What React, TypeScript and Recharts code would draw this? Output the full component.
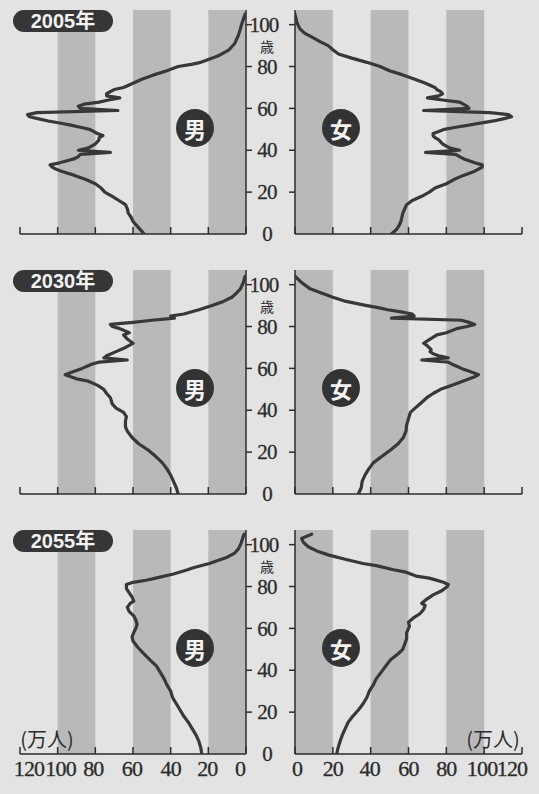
import React from 'react';
import { ScatterChart, Scatter, XAxis, YAxis, ReferenceArea } from 'recharts';

type Pt = [number, number]; // [age, 万人]

const valueTicks = [0, 20, 40, 60, 80, 100, 120];
const ageTicks = [0, 20, 40, 60, 80, 100];
const shadedBands: [number, number][] = [[0, 20], [40, 60], [80, 100]];
const yearLabels = ['2005年', '2030年', '2055年'];

const male2005: Pt[] = [
  [0, 54], [2, 56], [4, 58], [6, 60], [8, 61], [10, 62.5], [12, 63], [14, 64], [16, 67.5], [18, 71],
  [20, 75], [22, 77], [24, 80], [26, 85], [28, 91], [30, 98], [31, 101], [32, 103], [33, 104], [34, 99],
  [35, 95], [36, 91], [37, 89], [38, 88], [39, 72], [40, 89], [41, 84], [42, 82], [43, 80], [44, 79],
  [45, 78], [46, 78], [47, 76], [48, 79], [49, 81], [50, 83], [51, 88], [52, 93], [53, 99], [54, 105],
  [55, 110], [56, 115], [57, 116], [58, 111], [59, 68], [60, 88], [61, 89], [62, 86], [63, 78], [64, 73],
  [65, 67], [66, 74], [67, 74], [68, 72], [69, 70], [70, 65], [72, 60], [74, 55], [76, 49], [78, 42],
  [80, 36], [81, 29], [82, 24], [83, 21], [85, 15], [88, 9], [91, 6], [95, 4], [98, 3], [101, 2], [105, 0.5],
];
const female2005: Pt[] = [
  [0, 51], [2, 53.5], [4, 55], [6, 56], [8, 56.5], [10, 57], [12, 58], [14, 59], [16, 62], [18, 67],
  [20, 71], [22, 74], [24, 80], [26, 84], [28, 89], [30, 95], [31, 97], [32, 99], [33, 99], [34, 95],
  [35, 92], [36, 89], [37, 87], [38, 85], [39, 69], [40, 87], [41, 82], [42, 80], [43, 78], [44, 77],
  [45, 76], [46, 74], [47, 73], [48, 73], [49, 76], [50, 79], [51, 85], [52, 92], [53, 98], [54, 105],
  [55, 110], [56, 114.5], [57, 113], [58, 103], [59, 68], [60, 92], [61, 91], [62, 89], [63, 87], [64, 78],
  [65, 70], [66, 76], [67, 78], [68, 77], [69, 75], [70, 74], [72, 69], [74, 63], [76, 57], [78, 50],
  [80, 45], [82, 38], [84, 30], [86, 23], [88, 20], [90, 17.5], [92, 13], [94, 9], [96, 5], [98, 2.6],
  [101, 1], [105, 0],
];
const male2030: Pt[] = [
  [0, 36], [3, 37], [6, 38.5], [9, 40], [12, 42], [15, 44.5], [18, 48], [21, 52], [24, 57], [27, 60.5],
  [30, 63], [32, 64], [35, 64], [37, 63.5], [39, 65], [41, 69], [43, 71], [46, 72], [48, 74], [50, 75.5],
  [52, 79], [54, 84], [55, 90], [57, 96], [58, 93], [60, 87], [62, 82], [63, 78], [64, 63], [65, 75.5],
  [66, 74], [68, 69], [70, 64], [71, 62], [72, 60], [74, 63], [76, 65], [77, 62], [79, 67], [80, 71],
  [81, 72], [82, 60], [83, 50], [84, 38], [85, 40], [86, 33], [88, 25], [90, 18], [92, 12], [94, 7.5],
  [96, 5], [98, 3], [101, 1.4], [104, 0.5],
];
const female2030: Pt[] = [
  [0, 33.5], [3, 35], [6, 35.5], [9, 37], [12, 39], [15, 41.5], [18, 46], [21, 50.5], [24, 54.5], [27, 57.3],
  [30, 58.7], [33, 59], [36, 60], [39, 61], [41, 63.5], [43, 66], [46, 69.7], [48, 73], [50, 77], [52, 83],
  [54, 89], [56, 95], [57, 97], [58, 94], [60, 88], [61, 85.5], [62, 83], [63, 81], [64, 67], [65, 81],
  [66, 76], [67, 73], [68, 71.4], [69, 72], [71, 69.7], [72, 68], [74, 71.4], [76, 75], [77, 80], [79, 85.5],
  [80, 91], [81, 95], [82, 92], [83, 88], [84, 51], [85, 63], [86, 62], [87, 56], [88, 49], [89, 44],
  [90, 38], [92, 27], [94, 20], [96, 14], [98, 8], [101, 3.5], [104, 0],
];
const male2055: Pt[] = [
  [0, 23.5], [3, 24], [6, 25], [9, 26.5], [12, 28.5], [15, 30.5], [18, 33], [21, 35], [24, 37], [27, 39],
  [30, 40], [33, 42], [36, 43.5], [39, 45.5], [42, 47.5], [45, 51], [48, 54.3], [51, 57.5], [54, 60], [56, 60.5],
  [58, 59.6], [60, 58.5], [62, 57.8], [64, 58.5], [66, 59.6], [68, 62], [70, 63], [72, 61.5], [73, 59.6], [75, 60.5],
  [77, 62], [79, 63.5], [81, 63.5], [82, 60], [83, 53], [84, 48], [86, 38.5], [88, 31], [89, 28], [91, 19.5],
  [94, 10], [96, 6], [98, 4], [101, 2.5], [104, 1.4], [105, 1],
];
const female2055: Pt[] = [
  [0, 22], [3, 22.8], [6, 23.8], [9, 25], [12, 26.5], [15, 28], [18, 30.5], [21, 33.5], [24, 36], [27, 38],
  [30, 39.3], [33, 41.4], [36, 43], [39, 45.5], [42, 48], [45, 50.5], [48, 54.7], [50, 57], [53, 58.2], [55, 59],
  [58, 59], [61, 60.5], [63, 60], [65, 62.6], [67, 66], [69, 68], [71, 68.8], [72, 67], [74, 69.7], [76, 73],
  [78, 77.6], [80, 80.5], [81, 81], [82, 78.5], [84, 71], [85, 64], [87, 58], [88, 52], [90, 43], [91, 36],
  [93, 26.5], [95, 18], [97, 11.5], [99, 7], [101, 4.5], [103, 3.5], [105, 8.8],
];

const maleSeries = [male2005, male2030, male2055];
const femaleSeries = [female2005, female2030, female2055];

const INK = '#2c2c2c';
const BG = '#e3e3e3';
const BAND = '#b9b9b9';
const PLOT_H = 224;
const AGE_MAX = 107;
const PANEL_TOPS = [0, 259.5, 519.5];
const SERIF = '"Liberation Serif", "Times New Roman", serif';
const CJK = '"Noto Sans CJK JP", sans-serif';

const maleShift: Record<number, number> = { 120: 9, 100: 3, 80: -2, 60: -1, 40: 0, 20: -1, 0: -6 };
const femaleShift: Record<number, number> = { 0: 2, 20: 0, 40: -1, 60: 0, 80: 0, 100: -2, 120: -10 };

const toRows = (pts: Pt[]) => pts.map(([age, v]) => ({ age, v }));

const makeXTick = (male: boolean, showLabel: boolean) => (props: any) => {
  const { x, y, payload } = props;
  const val = payload.value as number;
  const off = (male ? maleShift[val] : femaleShift[val]) ?? 0;
  return (
    <g>
      <line x1={x} y1={y} x2={x} y2={y - 7} stroke={INK} strokeWidth={1.5} />
      {showLabel && (
        <text x={x + off} y={y + 22} textAnchor="middle" fontFamily={SERIF} fontSize={22} letterSpacing={-0.8} fill={INK} stroke={INK} strokeWidth={0.3}>
          {val}
        </text>
      )}
    </g>
  );
};

const MaleYTick = (props: any) => {
  const { x, y, payload } = props;
  const val = payload.value as number;
  return (
    <g>
      {val !== 0 && <line x1={x} y1={y} x2={x + 6} y2={y} stroke={INK} strokeWidth={1.5} />}
      <text x={x + (val === 100 ? 18 : 21)} y={y} dy="0.34em" textAnchor="middle" fontFamily={SERIF} fontSize={21} letterSpacing={-0.8} fill={INK} stroke={INK} strokeWidth={0.3}>
        {val}
      </text>
      {val === 100 && (
        <text x={x + 21} y={y + 22} dy="0.36em" textAnchor="middle" fontFamily={CJK} fontSize={14} fill={INK}>
          歳
        </text>
      )}
    </g>
  );
};

const FemaleYTick = (props: any) => {
  const { x, y, payload } = props;
  const val = payload.value as number;
  return <g>{val !== 0 && <line x1={x - 6} y1={y} x2={x} y2={y} stroke={INK} strokeWidth={1.5} />}</g>;
};

function Side({ pts, male, showLabels, top }: { pts: Pt[]; male: boolean; showLabels: boolean; top: number }) {
  const width = male ? 12 + 226 + 50 : 10 + 227 + 14;
  const left = male ? 8 : 285;
  return (
    <div style={{ position: 'absolute', left, top }}>
      <ScatterChart
        width={width}
        height={10 + PLOT_H + 40}
        margin={male ? { top: 10, right: 0, bottom: 0, left: 12 } : { top: 10, right: 14, bottom: 0, left: 0 }}
      >
        <XAxis
          type="number"
          dataKey="v"
          domain={[0, 120]}
          ticks={valueTicks}
          interval={0}
          reversed={male}
          height={40}
          allowDataOverflow
          axisLine={{ stroke: INK, strokeWidth: 1.5 }}
          tickLine={false}
          tickSize={0}
          tickMargin={0}
          tick={makeXTick(male, showLabels)}
        />
        <YAxis
          type="number"
          dataKey="age"
          domain={[0, AGE_MAX]}
          ticks={ageTicks}
          interval={0}
          orientation={male ? 'right' : 'left'}
          width={male ? 50 : 10}
          allowDataOverflow
          axisLine={{ stroke: INK, strokeWidth: 1.5 }}
          tickLine={false}
          tickSize={0}
          tickMargin={0}
          tick={male ? MaleYTick : FemaleYTick}
        />
        {shadedBands.map(([a, b]) => (
          <ReferenceArea key={a} x1={a} x2={b} y1={0} y2={AGE_MAX} fill={BAND} fillOpacity={1} stroke="none" />
        ))}
        <Scatter
          data={toRows(pts)}
          fill="none"
          line={{ stroke: '#383838', strokeWidth: 3.2, strokeLinejoin: 'round', strokeLinecap: 'round' }}
          shape={() => <g />}
          isAnimationActive={false}
        />
      </ScatterChart>
    </div>
  );
}

const circle = (cx: number, cy: number, label: string) => (
  <div
    style={{
      position: 'absolute',
      left: cx - 19,
      top: cy - 19,
      width: 38,
      height: 38,
      borderRadius: '50%',
      background: '#333',
      color: '#f4f4f4',
      fontFamily: CJK,
      fontSize: 22,
      fontWeight: 700,
      lineHeight: '38px',
      textAlign: 'center',
    }}
  >
    {label}
  </div>
);

export default function App() {
  return (
    <div style={{ position: 'absolute', left: 0, top: 0, width: 539, height: 794, background: BG, overflow: 'hidden' }}>
      {PANEL_TOPS.map((top, i) => (
        <React.Fragment key={i}>
          <Side pts={maleSeries[i]} male showLabels={i === 2} top={top} />
          <Side pts={femaleSeries[i]} male={false} showLabels={i === 2} top={top} />
          <div
            style={{
              position: 'absolute',
              left: 13,
              top: top + 10,
              width: 100,
              height: 22,
              borderRadius: 11,
              background: '#363636',
              color: '#f2f2f2',
              fontFamily: '"Liberation Sans", Arial, "Noto Sans CJK JP", sans-serif',
              fontWeight: 700,
              fontSize: 20,
              lineHeight: '22px',
              textAlign: 'center',
            }}
          >
            {yearLabels[i]}
          </div>
          {circle(195, top + 128, '男')}
          {circle(341, top + 128, '女')}
        </React.Fragment>
      ))}
      <div style={{ position: 'absolute', left: 12, top: 727, width: 70, textAlign: 'center', fontFamily: CJK, fontSize: 20, lineHeight: '24px', color: INK }}>
        (万人)
      </div>
      <div style={{ position: 'absolute', left: 458, top: 727, width: 70, textAlign: 'center', fontFamily: CJK, fontSize: 20, lineHeight: '24px', color: INK }}>
        (万人)
      </div>
    </div>
  );
}
